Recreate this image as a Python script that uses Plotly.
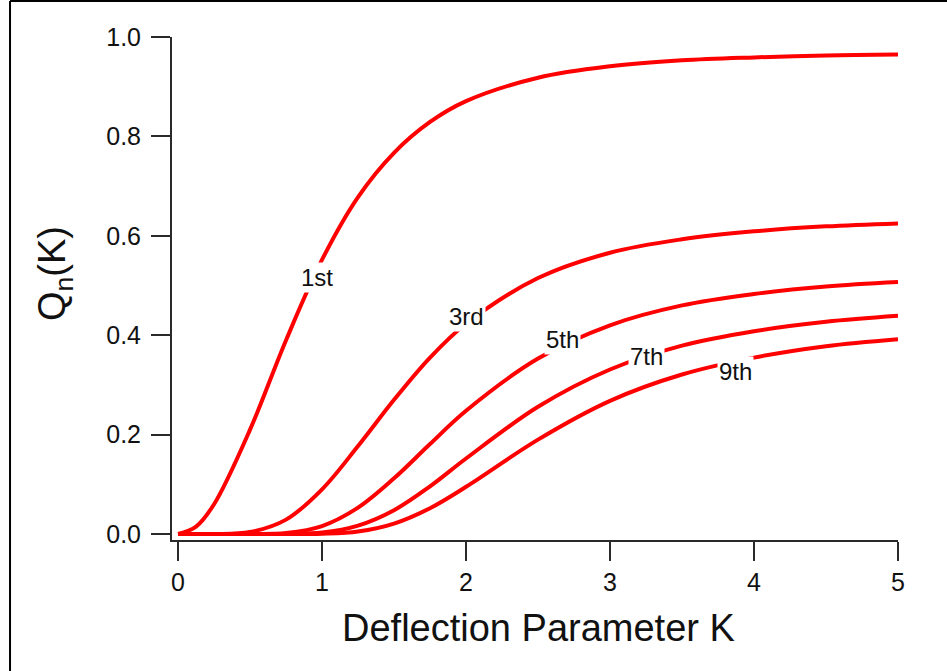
import plotly.graph_objects as go

# Deflection parameter K (x values)
K = [0, 0.125, 0.25, 0.5, 0.75, 1, 1.25, 1.5, 1.75, 2, 2.5, 3, 3.5, 4, 4.5, 5]

# Q_n(K) for odd harmonics
Q1 = [0, 0.015, 0.060, 0.210, 0.390, 0.552, 0.678, 0.767, 0.829, 0.871, 0.918, 0.941, 0.953, 0.959, 0.963, 0.965]
Q3 = [0, 0, 0.0001, 0.004, 0.029, 0.090, 0.177, 0.270, 0.355, 0.423, 0.515, 0.566, 0.593, 0.609, 0.619, 0.625]
Q5 = [0, 0, 0, 0.0001, 0.002, 0.016, 0.053, 0.112, 0.181, 0.248, 0.353, 0.420, 0.460, 0.483, 0.498, 0.507]
Q7 = [0, 0, 0, 0, 0.0002, 0.003, 0.017, 0.048, 0.096, 0.152, 0.256, 0.331, 0.379, 0.408, 0.427, 0.439]
Q9 = [0, 0, 0, 0, 0, 0.0006, 0.005, 0.021, 0.052, 0.095, 0.190, 0.268, 0.321, 0.355, 0.378, 0.392]

series = [Q1, Q3, Q5, Q7, Q9]

# curve labels and where they sit (K, Q)
labels = ["1st", "3rd", "5th", "7th", "9th"]
label_K = [0.962, 2.004, 2.668, 3.255, 3.869]
label_Q = [0.517, 0.437, 0.391, 0.357, 0.328]

x_ticks = [0, 1, 2, 3, 4, 5]
y_ticks = [0.0, 0.2, 0.4, 0.6, 0.8, 1.0]

FONT = "Arial, Liberation Sans, sans-serif"
RED = "#ff0000"
AX = "#2a2a2a"

fig = go.Figure()
for q in series:
    fig.add_trace(go.Scatter(x=K, y=q, mode="lines",
                             line=dict(color=RED, width=4, shape="spline", smoothing=1.0),
                             hoverinfo="skip", showlegend=False))

for t, kx, qy in zip(labels, label_K, label_Q):
    fig.add_annotation(x=kx, y=qy, xref="x", yref="y", text=t, showarrow=False,
                       font=dict(family=FONT, size=24, color="#111111"),
                       bgcolor="white", borderpad=1, xanchor="center", yanchor="middle")

# axis titles
fig.add_annotation(x=0.5055, y=-0.175, xref="paper", yref="paper",
                   text="Deflection Parameter K", showarrow=False,
                   font=dict(family=FONT, size=38, color="#111111"),
                   xanchor="center", yanchor="middle")
fig.add_annotation(x=-0.161, y=0.529, xref="paper", yref="paper",
                   text="Q<sub>n</sub>(K)", showarrow=False, textangle=-90,
                   font=dict(family=FONT, size=38, color="#111111"),
                   xanchor="center", yanchor="middle")

# outer frame lines (left and top)
fig.add_shape(type="line", xref="paper", yref="paper",
              x0=-0.2231, x1=-0.2231, y0=-0.2604, y1=1.0716,
              line=dict(color="black", width=2))
fig.add_shape(type="line", xref="paper", yref="paper",
              x0=-0.2231, x1=1.075, y0=1.0716, y1=1.0716,
              line=dict(color="black", width=2))

fig.update_layout(
    width=947, height=671,
    margin=dict(l=172, r=49, t=37, b=131),
    paper_bgcolor="white", plot_bgcolor="white",
    font=dict(family=FONT, size=25, color="#111111"),
    hovermode=False,
    xaxis=dict(range=[-0.042, 5], tickvals=x_ticks, ticktext=[str(v) for v in x_ticks],
               showline=True, linecolor=AX, linewidth=2, ticks="outside", ticklen=19,
               tickwidth=2, tickcolor=AX, showgrid=False, zeroline=False,
               tickfont=dict(family=FONT, size=25, color="#111111")),
    yaxis=dict(range=[-0.012, 1.0], tickvals=y_ticks, ticktext=["%.1f" % v for v in y_ticks],
               showline=True, linecolor=AX, linewidth=2, ticks="outside", ticklen=19,
               tickwidth=2, tickcolor=AX, showgrid=False, zeroline=False,
               ticklabelstandoff=5,
               tickfont=dict(family=FONT, size=25, color="#111111")),
)

fig.write_html("out.html", config={"displayModeBar": False},
               post_script="document.body.style.margin='0px';")
